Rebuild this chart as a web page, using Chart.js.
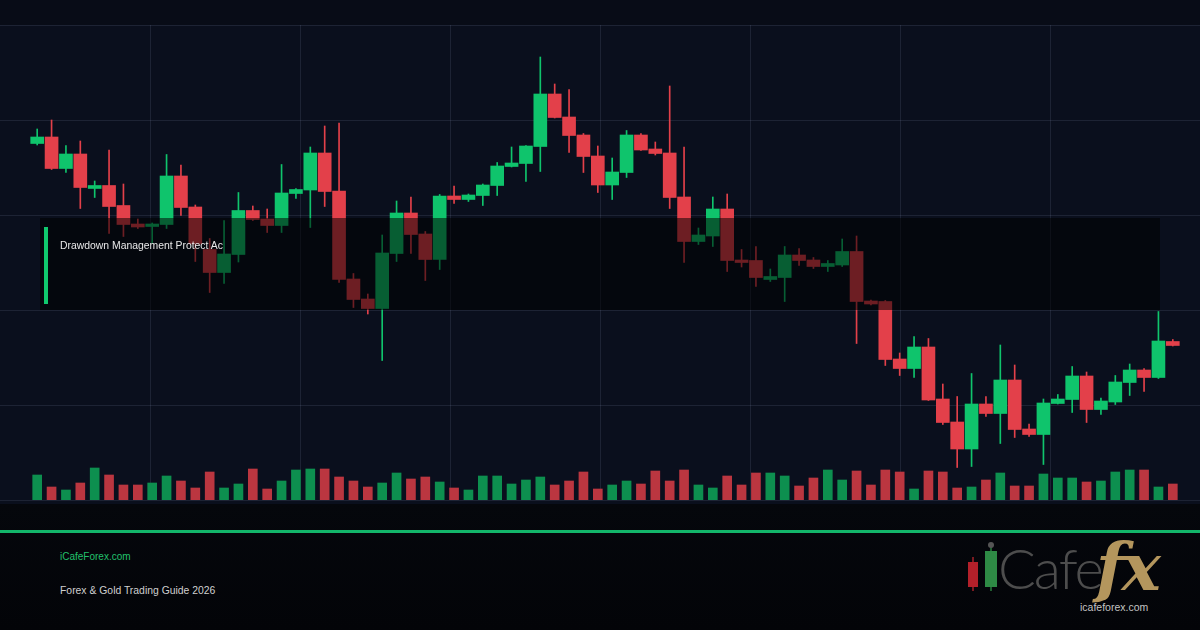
<!DOCTYPE html>
<html><head><meta charset="utf-8">
<script src="https://cdn.jsdelivr.net/npm/chart.js@4.4.1/dist/chart.umd.min.js"></script>
<style>
html,body{margin:0;padding:0;width:1200px;height:630px;overflow:hidden;background:#05070c;font-family:'Liberation Sans',Arial,sans-serif;}
#wrap{position:relative;width:1200px;height:630px;background:linear-gradient(#05070d 0%,#05070c 80%,#030408 100%);}
#c{position:absolute;left:0;top:0;}
.abs{position:absolute;white-space:nowrap;}
#box{left:40px;top:218px;width:1120px;height:92px;background:rgba(0,0,0,0.52);}
#boxbar{left:44px;top:227px;width:4px;height:77px;background:#10c96e;}
#boxlbl{left:60px;top:239px;font-size:10.4px;line-height:14px;color:#e8e8e8;}
#gline{left:0;top:530px;width:1200px;height:3px;background:#13b66a;}
#site{left:60px;top:550px;font-size:10px;line-height:14px;color:#22c06c;}
#guide{left:60px;top:584px;font-size:10.4px;line-height:14px;color:#d0d0d0;}
#lg-r{left:968px;top:562px;width:10px;height:25px;background:#b3202a;}
#lg-rw{left:972px;top:557px;width:2px;height:34px;background:#7a1a20;}
#lg-g{left:985px;top:551px;width:12px;height:36px;background:#2e8a45;}
#lg-gw{left:990px;top:545px;width:2px;height:46px;background:#1f5e30;}
#lg-dot{left:988px;top:542px;width:6px;height:6px;border-radius:3px;background:#555;}
#cafe{left:998px;top:536px;font-family:Lato,'Open Sans',sans-serif;font-weight:300;font-size:56px;line-height:64px;color:#4d4d4d;letter-spacing:-2px;}
#fx{left:1096px;top:530px;font-family:'DejaVu Serif',serif;font-style:italic;font-weight:bold;font-size:66px;line-height:74px;color:#b4965d;letter-spacing:-3px;}
#small{left:1080px;top:601px;font-size:10.5px;line-height:13px;color:#c4c4c4;}
</style></head>
<body><div id="wrap">
<canvas id="c" width="1200" height="510"></canvas>
<div class="abs" id="box"></div>
<div class="abs" id="boxbar"></div>
<div class="abs" id="boxlbl">Drawdown Management Protect Ac</div>
<div class="abs" id="gline"></div>
<div class="abs" id="site">iCafeForex.com</div>
<div class="abs" id="guide">Forex &amp; Gold Trading Guide 2026</div>
<div class="abs" id="lg-rw"></div><div class="abs" id="lg-r"></div>
<div class="abs" id="lg-gw"></div><div class="abs" id="lg-g"></div><div class="abs" id="lg-dot"></div>
<div class="abs" id="cafe">Cafe</div>
<div class="abs" id="fx">fx</div>
<div class="abs" id="small">icafeforex.com</div>
</div>
<script>
const labels = Array.from({length:80},(_,i)=>'D'+(i+1));
const opens  = [2076.3,2077.6,2071.3,2074.2,2067.3,2067.9,2063.9,2060.2,2059.7,2060.1,2069.8,2063.6,2055.1,2050.5,2054.1,2062.9,2061.2,2059.9,2066.3,2067.0,
                2074.4,2066.8,2049.2,2045.2,2043.3,2054.3,2062.4,2058.2,2053.1,2065.8,2065.1,2065.9,2067.9,2071.7,2072.3,2075.7,2086.2,2081.6,2078.0,2073.8,
                2068.0,2070.5,2078.0,2075.2,2074.4,2065.6,2056.7,2057.8,2063.2,2053.0,2052.9,2049.1,2049.5,2054.0,2053.0,2051.7,2052.0,2054.7,2044.8,2044.7,
                2033.2,2031.3,2035.6,2025.2,2020.6,2015.2,2024.2,2022.3,2029.0,2019.2,2018.1,2024.3,2025.1,2029.8,2023.1,2024.6,2028.5,2031.0,2029.5,2036.7];
const highs  = [2079.2,2081.0,2075.9,2076.8,2068.8,2075.0,2068.2,2061.2,2060.4,2074.1,2072.0,2064.0,2057.3,2060.9,2066.5,2063.8,2063.2,2072.1,2067.3,2075.6,
                2079.8,2080.4,2050.3,2046.2,2058.0,2064.8,2065.6,2058.7,2066.1,2067.8,2066.2,2068.2,2072.5,2075.6,2075.9,2093.6,2088.2,2087.1,2078.3,2075.8,
                2073.4,2078.9,2078.3,2076.6,2087.8,2075.6,2059.4,2065.6,2066.2,2055.1,2055.7,2051.2,2055.7,2055.3,2053.5,2052.9,2057.2,2057.8,2045.0,2044.9,
                2034.4,2037.7,2037.3,2028.2,2025.7,2030.3,2025.7,2036.0,2032.0,2020.2,2025.2,2026.1,2031.7,2030.6,2025.4,2029.9,2032.2,2031.3,2042.7,2037.1];
const lows   = [2076.0,2071.1,2070.5,2063.3,2065.5,2058.3,2057.7,2059.3,2056.3,2059.3,2061.9,2052.7,2046.5,2048.3,2052.6,2060.9,2058.5,2058.5,2065.3,2059.5,
                2063.7,2048.5,2043.5,2042.2,2032.9,2052.7,2054.3,2048.9,2051.1,2064.3,2064.7,2063.9,2065.9,2071.6,2068.7,2070.7,2081.4,2074.5,2070.5,2066.5,
                2065.1,2069.5,2074.9,2074.0,2063.3,2052.5,2056.1,2055.7,2050.7,2051.6,2047.7,2048.7,2044.7,2051.9,2051.3,2050.7,2051.7,2036.3,2044.0,2031.9,
                2029.9,2029.5,2024.9,2020.1,2011.5,2011.7,2021.7,2016.3,2017.5,2017.7,2012.1,2024.2,2022.5,2020.5,2022.1,2024.1,2025.9,2026.7,2029.3,2035.8];
const closes = [2077.6,2071.3,2074.2,2067.5,2067.9,2063.7,2060.1,2059.6,2060.2,2069.8,2063.5,2056.2,2050.5,2054.2,2062.9,2061.1,2059.9,2066.4,2067.1,2074.4,
                2066.7,2049.1,2045.1,2043.3,2054.4,2062.4,2058.1,2053.1,2065.8,2065.1,2066.0,2068.0,2071.8,2072.4,2075.8,2086.2,2081.5,2077.9,2073.7,2068.0,
                2070.6,2078.0,2075.0,2074.3,2065.5,2056.7,2058.0,2063.2,2052.9,2052.5,2049.5,2049.7,2054.0,2052.9,2051.7,2052.3,2054.7,2044.7,2044.2,2033.1,
                2031.3,2035.6,2025.0,2020.5,2015.2,2024.2,2022.3,2029.0,2019.1,2018.1,2024.4,2025.2,2029.8,2023.1,2024.8,2028.6,2031.0,2029.5,2036.8,2035.9];
const volumes = [250,130,100,170,320,250,150,150,170,240,190,120,280,120,160,310,110,190,300,310,
                 310,230,190,130,170,270,210,230,180,120,100,240,240,160,200,230,150,190,280,110,
                 150,190,160,290,190,300,150,120,240,150,270,270,240,140,220,300,200,290,150,300,
                 280,110,290,280,120,130,200,270,140,140,260,220,220,180,190,280,300,300,130,160];
const priceMin = 2005, priceMax = 2100, gridStep = 19, volMax = 4750;

const UP='#0fc46c', DOWN='#e3404a', VUP='#0d8f4f', VDOWN='#bb3640';
const isUp = closes.map((c,i)=>c>=opens[i]);
const bodyData = opens.map((o,i)=>[o,closes[i]]);
const wickData = lows.map((l,i)=>[l,highs[i]]);
const candleColors = isUp.map(u=>u?UP:DOWN);
const volColors = isUp.map(u=>u?VUP:VDOWN);

const bgGrid = {
  id:'bgGrid',
  beforeDraw(chart){
    const {ctx,width} = chart; const y = chart.scales.y;
    ctx.save();
    ctx.fillStyle='#080c17'; ctx.fillRect(0,0,width,y.top);
    ctx.fillStyle='#0a0f1d'; ctx.fillRect(0,y.top,width,y.bottom-y.top+4);
    ctx.strokeStyle='rgba(140,155,190,0.15)'; ctx.lineWidth=1;
    ctx.beginPath();
    for(let v=priceMin; v<=priceMax+0.001; v+=gridStep){
      const py=Math.round(y.getPixelForValue(v))+0.5;
      ctx.moveTo(0,py); ctx.lineTo(width,py);
    }
    for(let k=1;k<8;k++){
      const px=Math.round(width*k/8)+0.5;
      ctx.moveTo(px,y.top); ctx.lineTo(px,y.bottom);
    }
    ctx.stroke();
    ctx.restore();
  }
};

new Chart(document.getElementById('c'),{
  type:'bar',
  data:{labels, datasets:[
    {label:'Volume', data:volumes, yAxisID:'yv', backgroundColor:volColors, barThickness:9, grouped:false, order:3, borderWidth:0},
    {label:'Wick', data:wickData, yAxisID:'y', backgroundColor:candleColors, barThickness:1, grouped:false, order:2, borderWidth:0},
    {label:'Body', data:bodyData, yAxisID:'y', backgroundColor:candleColors, barThickness:13, grouped:false, order:1, borderWidth:0, minBarLength:1}
  ]},
  options:{
    responsive:false, animation:false,
    layout:{padding:{left:30,right:20,top:25,bottom:10}},
    plugins:{legend:{display:false}, tooltip:{enabled:false}},
    scales:{
      x:{type:'category', display:false, offset:true, grid:{display:false}},
      y:{display:false, min:priceMin, max:priceMax},
      yv:{display:false, min:0, max:volMax}
    }
  },
  plugins:[bgGrid]
});
</script>
</body></html>
